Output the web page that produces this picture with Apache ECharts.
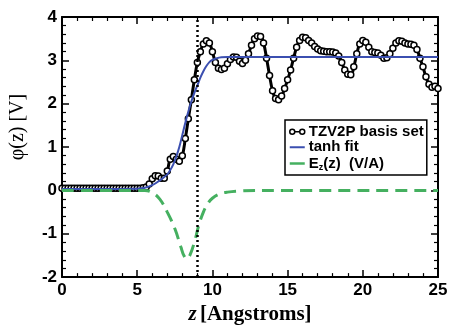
<!DOCTYPE html>
<html><head><meta charset="utf-8">
<script src="https://cdn.jsdelivr.net/npm/echarts@6/dist/echarts.min.js"></script>
<style>html,body{margin:0;padding:0;background:#fff}#c{width:451px;height:330px}</style>
</head><body><div id="c"></div>
<script>
// TZV2P basis set potential (z in Angstrom, phi in V)
const zTZV = [0,0.2,0.4,0.6,0.8,1,1.2,1.4,1.6,1.8,2,2.2,2.4,2.6,2.8,3,3.2,3.4,3.6,3.8,4,4.2,4.4,4.6,4.8,5,5.2,5.4,5.6,5.8,6,6.2,6.4,6.6,6.8,7,7.2,7.4,7.6,7.8,8,8.2,8.4,8.6,8.8,9,9.2,9.4,9.6,9.8,10,10.2,10.4,10.6,10.8,11,11.2,11.4,11.6,11.8,12,12.2,12.4,12.6,12.8,13,13.2,13.4,13.6,13.8,14,14.2,14.4,14.6,14.8,15,15.2,15.4,15.6,15.8,16,16.2,16.4,16.6,16.8,17,17.2,17.4,17.6,17.8,18,18.2,18.4,18.6,18.8,19,19.2,19.4,19.6,19.8,20,20.2,20.4,20.6,20.8,21,21.2,21.4,21.6,21.8,22,22.2,22.4,22.6,22.8,23,23.2,23.4,23.6,23.8,24,24.2,24.4,24.6,24.8,25];
const phiTZV = [0.05,0.05,0.05,0.05,0.05,0.05,0.05,0.05,0.05,0.05,0.05,0.05,0.05,0.05,0.05,0.05,0.05,0.05,0.05,0.05,0.05,0.05,0.05,0.05,0.05,0.05,0.05,0.06,0.08,0.15,0.27,0.34,0.33,0.28,0.28,0.45,0.72,0.78,0.72,0.67,0.80,1.20,1.65,2.09,2.55,2.95,3.20,3.38,3.45,3.40,3.20,2.95,2.82,2.79,2.82,2.92,3.02,3.08,3.07,2.98,2.93,3.00,3.15,3.35,3.50,3.56,3.55,3.40,3.05,2.65,2.30,2.12,2.09,2.18,2.35,2.55,2.78,3.05,3.30,3.46,3.53,3.52,3.46,3.40,3.32,3.26,3.22,3.21,3.20,3.20,3.19,3.17,3.10,2.95,2.78,2.68,2.67,2.85,3.15,3.38,3.46,3.42,3.30,3.20,3.18,3.17,3.12,3.05,3.06,3.15,3.28,3.40,3.45,3.44,3.40,3.38,3.37,3.35,3.25,3.05,2.85,2.62,2.45,2.38,2.40,2.35];
// tanh fit
const zFit = [0,5,5.5,6,6.5,7,7.2,7.4,7.6,7.8,8,8.2,8.4,8.6,8.8,9,9.2,9.4,9.6,9.8,10,10.3,10.6,11,11.5,25];
const phiFit = [0.03,0.04,0.06,0.12,0.23,0.37,0.47,0.6,0.78,1.0,1.28,1.56,1.82,2.05,2.25,2.42,2.6,2.75,2.87,2.96,3.01,3.05,3.07,3.08,3.08,3.08];
// E_z(z) in V/A
const zE = [0,5.5,6,6.5,7,7.5,7.9,8.1,8.3,8.5,8.8,9.1,9.4,9.7,10,10.5,11,12,13,25];
const eE = [0,0,-0.05,-0.2,-0.5,-0.88,-1.3,-1.5,-1.58,-1.5,-1.2,-0.8,-0.5,-0.3,-0.18,-0.08,-0.04,-0.01,0,0];
const zMark = 9.0;
const xTicks = [0,5,10,15,20,25];
const yTicks = [-2,-1,0,1,2,3,4];
const seriesNames = ['TZV2P basis set','tanh fit','E_z(z)  (V/A)'];

const pair = (xs, ys) => xs.map((x,i)=>[x, ys[i]]);
const axisCommon = {
  axisLine:{show:true, onZero:false, lineStyle:{color:'#000', width:2}},
  axisTick:{show:true, inside:true, length:7, lineStyle:{color:'#000', width:1.5}},
  minorTick:{show:true, splitNumber:5, length:4, lineStyle:{color:'#000', width:1.2}},
  splitLine:{show:false}
};
const tickLabel = {color:'#000', fontFamily:'Liberation Sans, Arial', fontWeight:'bold', fontSize:17};
const serif = 'Liberation Serif, Times New Roman';
const chart = echarts.init(document.getElementById('c'), null, {renderer:'canvas'});
chart.setOption({
  animation:false,
  backgroundColor:'#fff',
  grid:{left:57, right:13, top:17, bottom:43, containLabel:false},
  xAxis:[
    Object.assign({type:'value', min:xTicks[0], max:xTicks[xTicks.length-1], interval:5, position:'bottom',
      axisLabel:Object.assign({margin:5}, tickLabel),
      name:'{i|z} {b|[Angstroms]}', nameLocation:'middle', nameGap:26,
      nameTextStyle:{rich:{i:{fontFamily:serif, fontStyle:'italic', fontWeight:'bold', fontSize:21, color:'#000'},
                           b:{fontFamily:serif, fontWeight:'bold', fontSize:21, color:'#000'}}}
    }, axisCommon),
    Object.assign({type:'value', min:0, max:25, interval:5, position:'top', axisLabel:{show:false}}, axisCommon)
  ],
  yAxis:[
    Object.assign({type:'value', min:yTicks[0], max:yTicks[yTicks.length-1], interval:1, position:'left',
      axisLabel:Object.assign({margin:5}, tickLabel),
      name:'φ(z) [V]', nameLocation:'middle', nameRotate:90, nameGap:34,
      nameTextStyle:{fontFamily:serif, fontSize:20, color:'#000', padding:[0,0,0,40]}
    }, axisCommon),
    Object.assign({type:'value', min:-2, max:4, interval:1, position:'right', axisLabel:{show:false}}, axisCommon)
  ],
  legend:{
    left:285, top:120, orient:'vertical', itemGap:0, itemWidth:15, itemHeight:10,
    padding:[4,3,3,4], borderColor:'#000', borderWidth:1.5, backgroundColor:'#fff',
    symbolKeepAspect:true,
    data:[
      {name:seriesNames[0], icon:'path://M0,2.5a2.5,2.5 0 1,0 5,0a2.5,2.5 0 1,0 -5,0M5,2.5L10,2.5M10,2.5a2.5,2.5 0 1,0 5,0a2.5,2.5 0 1,0 -5,0',
       itemStyle:{color:'#fff', borderColor:'#000', borderWidth:1.5}},
      {name:seriesNames[1], icon:'path://M0,0h15v2h-15z', itemStyle:{color:'#3b4fb0', borderWidth:0}},
      {name:seriesNames[2], icon:'path://M0,0h15v2.5h-15z', itemStyle:{color:'#45b060', borderWidth:0}}
    ],
    formatter:function(n){ return n==='E_z(z)  (V/A)' ? 'E{s|z}(z)  (V/A)' : n; },
    textStyle:{color:'#000', fontFamily:'Liberation Sans, Arial', fontWeight:'bold', fontSize:15, lineHeight:15.5, padding:[0,0,0,-1],
      rich:{s:{fontSize:9, fontWeight:'bold', fontFamily:'Liberation Sans, Arial', color:'#000', padding:[8,0,0,0], lineHeight:15.5}}}
  },
  series:[
    {name:seriesNames[0], type:'line', data:pair(zTZV, phiTZV), smooth:true,
     symbol:'circle', symbolSize:6, showAllSymbol:true,
     itemStyle:{color:'#fff', borderColor:'#000', borderWidth:1.5},
     lineStyle:{color:'#000', width:3}, z:2,
     markLine:{silent:true, symbol:'none', label:{show:false},
       lineStyle:{color:'#000', type:[2,3], width:2.5},
       data:[{xAxis:zMark}]}},
    {name:seriesNames[1], type:'line', data:pair(zFit, phiFit), smooth:0.4, symbol:'none',
     itemStyle:{color:'#3b4fb0'}, lineStyle:{color:'#3b4fb0', width:2}, z:3},
    {name:seriesNames[2], type:'line', data:pair(zE, eE), smooth:0.4, symbol:'none',
     itemStyle:{color:'#45b060'}, lineStyle:{color:'#45b060', width:3, type:[12,7]}, z:4}
  ]
});
</script></body></html>
